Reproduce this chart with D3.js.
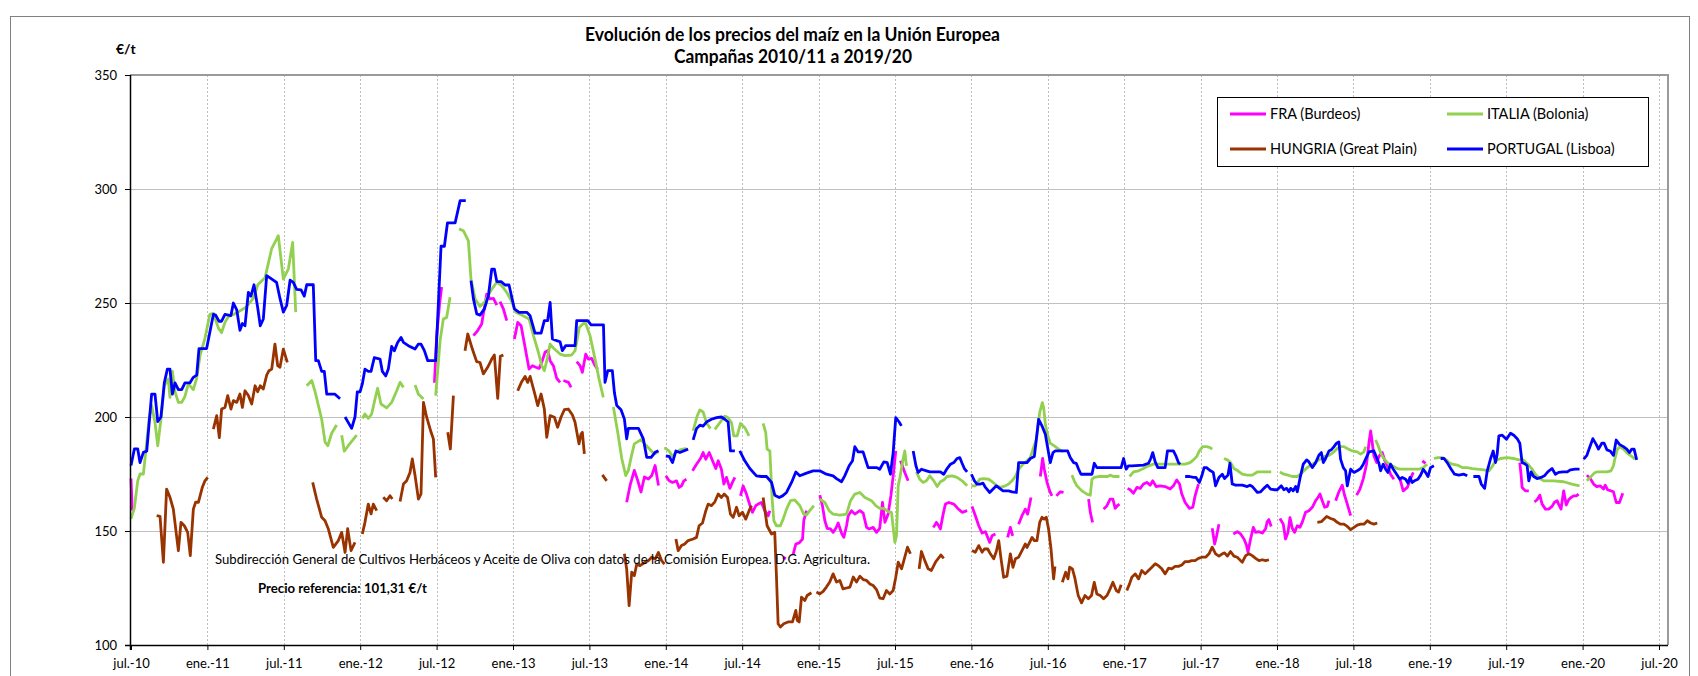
<!DOCTYPE html>
<html><head><meta charset="utf-8">
<script src="https://cdn.jsdelivr.net/npm/d3@7"></script>
<style>
body{margin:0;background:#fff}
svg text{font-family:Lato,"Liberation Sans",Arial,sans-serif;fill:#000}
</style></head>
<body><svg id="chart" width="1698" height="676"></svg>
<script>
const titleLines = ["Evolución de los precios del maíz en la Unión Europea", "Campañas 2010/11 a 2019/20"];
const yUnit = "€/t";
const sourceNote = "Subdirección General de Cultivos Herbáceos y Aceite de Oliva con datos de la Comisión Europea. D.G. Agricultura.";
const refNote = "Precio referencia: 101,31 €/t";
const xTickValues = [2010.5,2011,2011.5,2012,2012.5,2013,2013.5,2014,2014.5,2015,2015.5,2016,2016.5,2017,2017.5,2018,2018.5,2019,2019.5,2020,2020.5];
const xTickLabels = ["jul.-10","ene.-11","jul.-11","ene.-12","jul.-12","ene.-13","jul.-13","ene.-14","jul.-14","ene.-15","jul.-15","ene.-16","jul.-16","ene.-17","jul.-17","ene.-18","jul.-18","ene.-19","jul.-19","ene.-20","jul.-20"];
const yTicks = [100,150,200,250,300,350];
const seriesNames = ["FRA (Burdeos)","ITALIA (Bolonia)","HUNGRIA (Great Plain)","PORTUGAL (Lisboa)"];

// [año decimal, €/t]; null = hueco sin cotización
const fra = [[2010.5,173],[2010.508,159],null,
[2012.486,215],[2012.5,235],[2012.52,250],[2012.533,257],null,
[2012.741,235.7],[2012.769,237.9],[2012.795,240.8],[2012.813,248.1],[2012.828,253.9],[2012.85,251.8],[2012.872,252],[2012.894,249.1],null,
[2012.915,250.6],[2012.937,247.4],[2012.959,242.3],null,
[2013.009,234.2],[2013.031,241.5],[2013.053,240],[2013.079,230.6],[2013.105,221],[2013.127,222.5],[2013.149,221.8],[2013.171,221.3],[2013.188,224],[2013.21,228.4],[2013.227,229.1],[2013.243,224.7],[2013.264,222.5],[2013.286,217],[2013.308,215.2],null,
[2013.33,216],[2013.363,215.2],[2013.38,213],null,
[2013.417,224.3],[2013.439,222.5],[2013.454,219.6],[2013.476,227.6],[2013.493,225.4],[2013.515,225.7],[2013.537,222.5],[2013.554,221],null,
[2013.744,162.6],[2013.766,170],[2013.794,176.6],[2013.816,172.2],[2013.838,167.1],[2013.86,173.7],[2013.886,172.8],[2013.908,174.3],[2013.93,178.7],[2013.952,170],null,
[2014.0,174.2],[2014.022,172],[2014.044,171.3],[2014.07,172],[2014.087,169.1],[2014.103,169.8],[2014.118,172],[2014.135,172.7],null,
[2014.175,176.4],[2014.201,179.3],[2014.227,181.8],[2014.244,184.4],[2014.262,181.5],[2014.284,184.4],[2014.306,180.8],[2014.327,177.4],[2014.343,180.8],[2014.364,177.1],[2014.38,170.6],[2014.397,173.5],[2014.419,168.7],[2014.436,171.3],[2014.452,173.5],null,
[2014.489,165.4],[2014.506,169.8],[2014.528,166.2],[2014.55,161.4],[2014.567,158.2],[2014.589,161.1],[2014.604,161.8],[2014.626,162.5],[2014.648,158.9],[2014.67,156.7],[2014.681,158.9],null,
[2014.768,138.5],[2014.786,137.8],null,
[2014.834,139.9],[2014.851,144.3],[2014.873,144.8],[2014.895,146.5],[2014.903,154.5],[2014.921,158.9],null,
[2015.008,165.7],[2015.025,161.1],[2015.041,154.5],[2015.056,151.2],[2015.078,150.9],[2015.095,149.4],[2015.113,151.2],[2015.128,153.5],[2015.15,149.1],[2015.165,147.2],[2015.183,152.3],[2015.194,156.7],[2015.215,158.9],[2015.237,157.4],[2015.27,158.9],[2015.292,157.8],[2015.314,151.6],[2015.331,150.9],[2015.357,151.6],[2015.379,149.4],[2015.4,151.2],[2015.418,162.5],[2015.434,153.8],[2015.455,157.4],[2015.473,165.4],[2015.488,174.2],[2015.505,185.1],null,
[2015.536,180.8],[2015.564,175.7],[2015.586,172],null,
[2015.75,151.6],[2015.758,152.3],[2015.771,153.8],[2015.786,152.3],[2015.797,150.9],[2015.815,157.4],[2015.83,161.8],[2015.852,162.5],[2015.885,161.8],[2015.911,159.9],[2015.939,158.2],[2015.972,158.9],null,
[2016.004,160.8],[2016.026,156.7],[2016.048,152.3],[2016.07,149.1],[2016.092,149.7],[2016.12,145],[2016.135,147.9],[2016.157,148.7],null,
[2016.237,147.2],[2016.255,151.6],[2016.27,147.9],null,
[2016.309,153],[2016.331,156.7],[2016.353,159.6],[2016.368,157.4],[2016.39,164.7],null,
[2016.451,173.9],[2016.466,181.8],[2016.477,177.1],[2016.495,171.3],[2016.512,167.6],[2016.527,165.4],null,
[2016.556,165.4],[2016.582,167.2],[2016.603,166.9],null,
[2016.767,164],[2016.778,158.2],[2016.793,153.8],null,
[2016.865,159.6],[2016.887,161.1],[2016.908,164],[2016.926,164],[2016.941,159.9],[2016.956,161.1],[2016.969,161.8],null,
[2017.022,168.7],[2017.039,168.1],[2017.061,166.6],[2017.083,169.1],[2017.105,168.7],[2017.126,170.6],[2017.148,171.3],[2017.17,170.1],[2017.187,172],[2017.209,169.5],[2017.235,169.8],[2017.268,169.5],[2017.301,168.4],[2017.322,169.8],[2017.344,172.4],[2017.362,170.6],[2017.377,166.2],[2017.399,162.5],[2017.427,159.9],[2017.449,160.4],[2017.464,165.4],[2017.486,170.6],null,
[2017.576,151.2],[2017.592,144.3],[2017.605,147.9],[2017.62,153],null,
[2017.714,148.7],[2017.74,149.7],[2017.762,148.7],[2017.784,146.5],[2017.801,143.6],[2017.81,140.7],[2017.827,146.5],[2017.845,151.6],[2017.86,149.4],[2017.882,149.7],[2017.904,149.1],[2017.925,150.9],[2017.936,154.1],[2017.947,155],[2017.962,152],null,
[2018.019,155.5],[2018.041,153],[2018.056,146.5],[2018.072,149.4],[2018.085,155.9],[2018.1,151.2],[2018.115,149.4],[2018.133,152.3],[2018.15,151.6],[2018.165,153.8],[2018.187,158.2],[2018.209,158.9],[2018.231,160.4],[2018.253,163.3],[2018.268,164.7],[2018.281,166.2],[2018.296,163.3],[2018.312,160.4],[2018.329,160.8],[2018.34,163.3],null,
[2018.384,163.3],[2018.405,167.2],[2018.427,170.1],[2018.442,165.7],[2018.46,161.8],[2018.482,156.7],null,
[2018.521,165.7],[2018.543,168.4],[2018.565,173],[2018.586,179.3],[2018.602,188.8],[2018.613,193.9],[2018.623,188.8],[2018.634,183],[2018.652,180],[2018.67,183],[2018.689,184.4],[2018.705,181],[2018.722,178.6],[2018.743,174.9],[2018.765,172.7],null,
[2018.805,172.7],[2018.826,167.6],[2018.853,169.1],[2018.874,173],[2018.892,175.7],null,
[2018.951,180.8],[2018.972,179.7],null,
[2019.589,180],[2019.598,174.2],[2019.604,169.1],[2019.626,167.6],[2019.648,167.6],null,
[2019.685,162.8],[2019.702,163.7],[2019.72,165.7],[2019.735,161.8],[2019.757,159.6],[2019.778,159.6],[2019.8,160.8],[2019.815,162.5],[2019.833,163.3],[2019.843,161.8],[2019.859,159.6],[2019.876,167.6],[2019.893,161.4],[2019.909,163.7],[2019.924,164.7],[2019.941,165.4],[2019.959,165.4],[2019.974,166.2],null,
[2020.028,174.5],[2020.05,173],[2020.072,170.6],[2020.093,169.5],[2020.115,169.8],[2020.137,168.4],[2020.148,170.1],[2020.163,168.1],[2020.185,167.6],[2020.202,167.2],[2020.22,162.5],[2020.241,162.5],[2020.263,166.6]];

const italia = [[2010.5,155.3],[2010.522,160],[2010.544,172],[2010.559,175],[2010.581,175],[2010.596,184.5],[2010.62,200],[2010.635,205],[2010.657,197.7],[2010.675,187.4],[2010.696,199],[2010.718,213.7],[2010.744,216.7],[2010.755,208.6],[2010.771,220],[2010.788,211],[2010.81,206.4],[2010.832,206.4],[2010.853,209],[2010.875,214.5],[2010.908,212],[2010.93,217],[2010.952,227],[2010.984,234.5],[2011.016,245],[2011.039,245.5],[2011.072,239],[2011.093,237],[2011.115,241.5],[2011.137,244],[2011.17,245],[2011.2,246],[2011.25,248],[2011.3,252],[2011.33,258],[2011.36,260],[2011.377,261],[2011.42,273.7],[2011.464,279.5],[2011.497,260.5],[2011.53,265],[2011.558,276.6],[2011.578,246],null,
[2011.65,213.7],[2011.683,216],[2011.705,211],[2011.748,199],[2011.77,189],[2011.788,187.4],[2011.814,193],[2011.846,196.5],null,
[2011.879,192],[2011.896,185],[2011.922,187.4],[2011.977,192],null,
[2012.014,199.4],[2012.031,201.3],[2012.053,199.4],[2012.075,201.3],[2012.097,207.9],[2012.114,212.6],[2012.136,205.7],[2012.173,204],[2012.206,206.4],[2012.239,211.5],[2012.261,215.2],[2012.283,213],null,
[2012.359,214],[2012.381,210],[2012.414,207.9],null,
[2012.494,209.4],[2012.523,233.5],[2012.544,243],[2012.566,243.7],[2012.588,252.5],null,
[2012.647,282.5],[2012.675,281.7],[2012.708,277.3],[2012.725,260.5],[2012.752,251.8],[2012.784,248.5],[2012.813,250.3],[2012.861,256.1],[2012.894,259.1],[2012.926,257.6],[2012.959,254.7],[2012.992,250.6],[2013.018,245.9],[2013.057,244.7],[2013.105,243],[2013.134,235.7],[2013.166,228.4],[2013.188,222.5],[2013.205,220.3],[2013.221,224.7],[2013.243,232],[2013.271,229.8],[2013.308,227.6],[2013.341,226.9],[2013.384,227.2],[2013.406,229.1],[2013.434,239.3],[2013.472,241.8],[2013.504,235.7],[2013.537,225.4],[2013.563,216.7],[2013.591,208.6],null,
[2013.657,204.4],[2013.685,193.4],[2013.712,181.7],[2013.738,174.3],[2013.755,176.6],[2013.773,182.3],[2013.794,188.2],[2013.838,190.1],[2013.869,187.7],[2013.904,185.2],[2013.925,183.8],[2013.952,184.8],null,
[2013.99,186],[2014.0,186.2],[2014.022,185],[2014.044,182.7],[2014.066,184.4],[2014.092,185.6],[2014.135,186.2],null,
[2014.179,193.9],[2014.205,200.4],[2014.223,203.1],[2014.244,202.2],[2014.266,197.5],[2014.292,194.9],null,
[2014.321,194.6],[2014.354,197.5],[2014.386,200.4],[2014.408,199.7],[2014.43,197.5],[2014.445,191.7],[2014.467,191.7],[2014.489,197.2],[2014.517,195.3],[2014.545,191.7],null,
[2014.637,197.2],[2014.654,193.1],[2014.663,185.9],[2014.681,185.1],[2014.696,164],[2014.707,154.5],[2014.724,152.3],[2014.75,152.3],[2014.768,155.2],[2014.79,159.6],[2014.816,163.3],[2014.844,163.6],[2014.877,161.1],[2014.903,157.4],[2014.921,157],[2014.942,158.9],[2014.969,161.1],null,
[2015.008,164],[2015.041,162.5],[2015.069,158.9],[2015.095,157.4],[2015.139,157],[2015.183,157.4],[2015.209,163.3],[2015.237,166.2],[2015.27,166.9],[2015.303,164.7],[2015.346,163.3],[2015.374,161.1],[2015.4,159.9],[2015.427,159.9],[2015.455,158.5],[2015.477,158.2],[2015.499,145],[2015.51,148],[2015.521,169.8],[2015.532,173.5],[2015.553,181.5],[2015.564,185.1],[2015.575,178.6],null,
[2015.64,175.9],[2015.662,172.7],[2015.684,171.3],[2015.706,172],[2015.728,174.2],[2015.754,172],[2015.776,169.5],[2015.797,171.6],[2015.819,172.4],[2015.841,173.9],[2015.874,174.2],[2015.906,173.5],[2015.939,172],[2015.972,169.8],null,
[2016.0,169.8],[2016.026,169.8],[2016.054,172.7],[2016.081,173],[2016.113,172.7],[2016.142,171.3],[2016.168,169.8],[2016.19,169.1],[2016.222,169.8],[2016.244,170.6],[2016.266,172],[2016.288,173.9],[2016.309,177.1],[2016.338,179.3],[2016.364,180.8],[2016.386,182.2],[2016.403,185.9],[2016.425,190.2],[2016.447,201.9],[2016.464,206.3],[2016.473,204.1],[2016.484,196.8],[2016.499,192],[2016.516,188.5],[2016.542,187.3],[2016.571,185.9],[2016.603,184.7],null,
[2016.658,174.5],[2016.673,172],[2016.69,169.8],[2016.723,167.6],[2016.756,166.2],[2016.778,165.7],[2016.789,172.7],[2016.804,173.5],[2016.832,173.9],[2016.865,173.9],[2016.891,173.9],[2016.908,174.5],[2016.93,173.9],[2016.969,173.9],null,
[2017.035,173.9],[2017.061,175.9],[2017.094,176.4],[2017.126,177.4],[2017.159,178.6],[2017.192,179.3],[2017.235,179.3],[2017.279,179.3],[2017.322,179.3],[2017.366,179.3],[2017.399,179.3],[2017.431,180],[2017.453,181.2],[2017.475,182.7],[2017.492,185.1],[2017.514,187],[2017.54,187],[2017.562,186.6],[2017.576,185.9],null,
[2017.653,181.8],[2017.675,181.2],[2017.696,180],[2017.718,177.4],[2017.744,176.4],[2017.773,174.9],[2017.805,174.5],[2017.838,174.5],[2017.871,175.9],[2017.904,175.9],[2017.936,175.9],[2017.962,175.9],null,
[2018.019,175.9],[2018.045,174.9],[2018.072,174.5],[2018.1,173.9],[2018.133,173.9],[2018.154,174.9],[2018.176,176.4],[2018.198,177.8],[2018.22,178.9],[2018.242,179.7],[2018.264,180.8],[2018.29,181.8],[2018.312,182.7],[2018.34,183.2],[2018.373,184.7],[2018.394,186.2],[2018.416,187],[2018.438,187],[2018.46,186.2],[2018.493,185.1],[2018.525,184.7],[2018.547,183.7],[2018.569,184.7],[2018.58,187],null,
[2018.645,189.9],[2018.661,187.6],[2018.678,184.4],[2018.695,182.2],[2018.722,180],[2018.754,178.6],[2018.787,177.4],[2018.809,177.1],[2018.864,177.1],[2018.929,177.1],[2018.957,177.8],[2018.983,179.3],null,
[2019.027,181.8],[2019.053,182.2],[2019.082,182.2],[2019.103,181.5],[2019.125,180],[2019.147,179.3],[2019.18,178.9],[2019.212,177.8],[2019.245,177.8],[2019.278,177.4],[2019.311,177.1],[2019.354,176.8],[2019.387,176.4],[2019.409,178.3],[2019.43,180.8],[2019.463,181.8],[2019.507,182.2],[2019.55,181.8],[2019.583,181.2],[2019.611,181.2],[2019.641,179.3],[2019.67,177.1],[2019.691,174.9],[2019.72,173],[2019.746,172],[2019.811,172],[2019.876,171.6],[2019.93,170.6],[2019.98,169.8],null,
[2020.028,172],[2020.05,173.5],[2020.076,175.4],[2020.093,175.9],[2020.159,175.9],[2020.185,176.4],[2020.202,178.6],[2020.213,182.2],[2020.228,185.9],[2020.246,187],[2020.267,185.9],[2020.293,184.1],[2020.322,182.7],[2020.343,181.5]];

const hungria = [[2010.668,156.7],[2010.69,156.4],[2010.712,136.3],[2010.733,168.4],[2010.755,164.8],[2010.777,159.6],[2010.81,141.4],[2010.827,153.8],[2010.849,152.3],[2010.871,149.4],[2010.888,139.2],[2010.908,159.6],[2010.923,162.6],[2010.941,162.6],[2010.967,169.2],[2010.984,172],[2011.002,173.5],null,
[2011.039,194.7],[2011.061,200.6],[2011.078,191],[2011.093,203.5],[2011.115,204.2],[2011.133,209.4],[2011.154,203.5],[2011.17,207.2],[2011.192,206.4],[2011.213,210.1],[2011.229,204.2],[2011.246,211.5],[2011.268,209.4],[2011.29,205.7],[2011.312,213.7],[2011.329,211.1],[2011.346,213.7],[2011.366,212.3],[2011.388,218.4],[2011.403,220.3],[2011.421,221],[2011.442,232],[2011.46,222.5],[2011.475,221.8],[2011.497,229.8],[2011.523,224],null,
[2011.689,171.3],[2011.715,164],[2011.748,156],[2011.77,154.5],[2011.791,151],[2011.824,142.8],[2011.857,145.8],[2011.879,149.4],[2011.901,140.6],[2011.918,151],[2011.94,141.4],[2011.966,145],null,
[2012.014,148.7],[2012.031,153.8],[2012.053,161.8],[2012.071,157.5],[2012.086,161.8],[2012.108,158.9],null,
[2012.151,164.8],[2012.173,163.3],[2012.195,165.5],[2012.21,164],null,
[2012.261,162.9],[2012.283,170.6],[2012.304,172],[2012.326,175.7],[2012.341,181.6],[2012.359,174.3],[2012.381,164],[2012.398,166.3],[2012.414,206.4],[2012.435,199.9],[2012.464,193.3],[2012.479,190.4],[2012.494,173.5],null,
[2012.573,193.3],[2012.59,186],[2012.61,209.4],null,
[2012.686,229.1],[2012.704,236.4],[2012.734,229.8],[2012.762,224.3],[2012.784,223.9],[2012.806,218.9],[2012.834,221.8],[2012.861,225.4],[2012.878,227.2],[2012.9,208.2],[2012.917,226.6],[2012.937,227.2],null,
[2013.031,211.5],[2013.057,215.5],[2013.079,217.8],[2013.096,215.2],[2013.112,217.8],[2013.14,210.8],[2013.162,205],[2013.184,210.1],[2013.205,203.5],[2013.221,191.1],[2013.243,200.6],[2013.271,199.9],[2013.292,195.5],[2013.314,199.9],[2013.336,203.2],[2013.362,203.5],[2013.389,200.9],[2013.406,197.7],[2013.432,188.2],[2013.445,192.5],[2013.454,193.3],[2013.467,183.8],null,
[2013.585,174.6],[2013.613,172],null,
[2013.729,140],[2013.744,133.3],[2013.76,117.3],[2013.777,132],[2013.794,130.4],[2013.81,135.5],[2013.831,134.8],[2013.864,136.3],[2013.886,137],[2013.908,138.5],[2013.93,137.7],[2013.952,140.6],[2013.973,137],[2013.991,135.5],null,
[2014.066,146.5],[2014.081,141.4],[2014.103,143.6],[2014.124,144.3],[2014.146,145.8],[2014.179,146.5],[2014.201,147.2],[2014.218,152.3],[2014.24,153.5],[2014.262,158.9],[2014.277,161.8],[2014.299,161.1],[2014.321,162.8],[2014.343,166.2],[2014.364,164.7],[2014.382,166.2],[2014.404,164.7],[2014.423,157.4],[2014.441,156],[2014.463,160.4],[2014.48,156.7],[2014.502,158.2],[2014.523,155.2],[2014.545,158.9],[2014.561,161.1],null,
[2014.637,164.7],[2014.663,152.3],[2014.692,148.7],[2014.713,149.4],[2014.724,130.5],[2014.735,109.3],[2014.75,107.9],[2014.772,109.3],[2014.8,110.1],[2014.829,110.1],[2014.851,115.2],[2014.86,110.8],[2014.873,110.1],[2014.888,121],[2014.91,119.5],[2014.925,121.7],[2014.953,122.9],null,
[2014.986,123.2],[2015.008,122.4],[2015.03,123.5],[2015.051,125.4],[2015.073,127.6],[2015.095,131.2],[2015.117,127.6],[2015.139,128.3],[2015.16,124.6],[2015.183,125],[2015.205,125.4],[2015.227,129.8],[2015.248,127.6],[2015.27,130.2],[2015.292,128.7],[2015.314,128.3],[2015.336,126.8],[2015.357,126.1],[2015.379,124.3],[2015.4,120.6],[2015.422,120.3],[2015.444,123.9],[2015.466,122.4],[2015.488,123.9],[2015.505,129.7],[2015.521,136.3],[2015.543,133.4],[2015.564,138.5],[2015.582,142.9],[2015.601,140],null,
[2015.658,133.4],[2015.673,141],[2015.695,137],[2015.717,133.4],[2015.738,132.7],[2015.767,136.6],[2015.79,138.5],[2015.8,139.5],[2015.819,138],null,
[2016.004,141.4],[2016.026,140.7],[2016.048,143.6],[2016.07,140.7],[2016.085,142.1],[2016.107,142.1],[2016.124,140],[2016.146,137.8],[2016.163,141],[2016.179,145.8],[2016.194,137.8],[2016.211,129.7],[2016.233,130.2],[2016.255,140],[2016.272,134.1],[2016.288,137.8],[2016.309,138.5],[2016.331,141.4],[2016.353,144.3],[2016.364,142.8],[2016.381,145],[2016.397,147.2],[2016.412,145.8],[2016.429,145.8],[2016.447,153.8],[2016.462,156],[2016.477,155.2],[2016.49,156],[2016.505,150.9],[2016.521,142.1],[2016.538,129],[2016.547,134.5],null,
[2016.595,127.5],[2016.617,131.9],[2016.632,129],[2016.643,134.1],[2016.661,133.4],[2016.676,129.7],[2016.699,121.7],[2016.721,118.5],[2016.743,121.7],[2016.765,120.3],[2016.786,121.7],[2016.804,127.5],[2016.821,122.4],[2016.843,121.7],[2016.865,120.3],[2016.887,121.7],[2016.908,124.6],[2016.926,127.5],[2016.948,123.9],[2016.963,123.2],[2016.98,126.4],null,
[2017.017,123.9],[2017.035,126.8],[2017.05,129.7],[2017.072,131.2],[2017.094,129],[2017.115,132.7],[2017.137,131.2],[2017.159,132.7],[2017.181,134.1],[2017.203,135.6],[2017.224,134.8],[2017.246,133.4],[2017.268,131.2],[2017.29,133.7],[2017.311,133.4],[2017.333,134.5],[2017.355,134.5],[2017.377,135.1],[2017.399,136.6],[2017.421,136.6],[2017.442,137],[2017.464,137],[2017.486,138],[2017.508,138.5],[2017.533,138.5],[2017.555,140],[2017.576,142.9],[2017.598,140],[2017.62,139],[2017.642,140],[2017.657,140.4],[2017.675,139],[2017.696,141],[2017.718,139],[2017.74,138.5],[2017.762,137],[2017.773,136.3],[2017.795,139.2],[2017.816,140],[2017.838,139.2],[2017.86,138],[2017.882,137],[2017.904,137.4],[2017.925,137],[2017.947,137.4],null,
[2018.264,153.8],[2018.29,154.1],[2018.325,156.4],[2018.351,155.5],[2018.373,155],[2018.394,153.8],[2018.416,153],[2018.438,153],[2018.46,152],[2018.482,150.6],[2018.504,151.6],[2018.525,152.6],[2018.547,153],[2018.569,153],[2018.591,154.5],[2018.613,153.5],[2018.634,153],[2018.656,153.5]];

const portugal = [[2010.5,178.7],[2010.522,186],[2010.544,186],[2010.559,180],[2010.581,184.5],[2010.603,185],[2010.635,210],[2010.657,210],[2010.675,198],[2010.696,200],[2010.718,215],[2010.738,221],[2010.755,221],[2010.771,210],[2010.788,215],[2010.81,212],[2010.832,212],[2010.853,215],[2010.886,215],[2010.908,217.4],[2010.93,218.4],[2010.945,230],[2010.995,230],[2011.039,245],[2011.054,244.7],[2011.076,242],[2011.093,242],[2011.115,245],[2011.154,244.5],[2011.17,250],[2011.192,247],[2011.213,238],[2011.229,241],[2011.246,240],[2011.268,254.7],[2011.285,253],[2011.305,258],[2011.329,248],[2011.346,240],[2011.366,243],[2011.388,262],[2011.41,261],[2011.431,260],[2011.453,259],[2011.475,252],[2011.497,246],[2011.519,249],[2011.541,260],[2011.562,259],[2011.584,256],[2011.613,255.8],[2011.634,253],[2011.65,258],[2011.693,258],[2011.709,224.7],[2011.726,224.7],[2011.748,220],[2011.765,220],[2011.781,210],[2011.835,210],[2011.868,208],null,
[2011.901,200],[2011.927,197],[2011.944,195],[2011.966,200],[2011.981,211],[2011.999,211],[2012.014,214.5],[2012.031,221],[2012.053,220],[2012.071,220],[2012.092,226],[2012.13,225.4],[2012.145,220],[2012.167,218],[2012.184,221],[2012.206,231],[2012.223,229],[2012.245,232.7],[2012.267,234.9],[2012.283,232.7],[2012.315,231.3],[2012.359,229.8],[2012.381,232],[2012.398,232],[2012.42,229.1],[2012.442,224.7],[2012.494,224.7],[2012.512,250.3],[2012.529,274.9],[2012.551,274.9],[2012.571,285.1],[2012.621,285.1],[2012.654,294.9],[2012.691,294.9],null,
[2012.725,259.8],[2012.741,251.8],[2012.763,245.2],[2012.784,244.7],[2012.813,247.4],[2012.839,253.2],[2012.861,264.9],[2012.878,264.9],[2012.894,259.4],[2012.922,259.4],[2012.948,257.9],[2012.974,257.9],[2012.992,252.5],[2013.009,247.4],[2013.04,245.9],[2013.09,245.9],[2013.112,244.4],[2013.144,236.8],[2013.184,236.8],[2013.205,242.3],[2013.227,242.3],[2013.243,250.3],[2013.258,234.2],[2013.286,233.5],[2013.308,233],[2013.323,229.1],[2013.345,231.3],[2013.406,231.3],[2013.417,242.3],[2013.489,242.3],[2013.511,240.4],[2013.592,240.4],[2013.602,215.2],[2013.62,220.3],[2013.65,220.3],[2013.664,210.5],[2013.679,205],[2013.707,203.2],[2013.729,199.1],[2013.744,190.4],[2013.755,195],[2013.821,195],[2013.853,190.4],[2013.875,182.3],[2013.904,182.3],[2013.93,184.5],[2013.952,185.2],null,
[2014.0,182.9],[2014.022,182.7],[2014.044,180],[2014.066,185.1],[2014.092,184.4],[2014.146,185.9],null,
[2014.179,190],[2014.201,194.9],[2014.223,196.4],[2014.244,196],[2014.266,197.8],[2014.299,199],[2014.332,199.7],[2014.364,200],[2014.386,199],[2014.408,197.8],[2014.423,185.1],[2014.452,185.1],null,
[2014.484,185.1],[2014.517,180.8],[2014.55,177.4],[2014.593,174.2],[2014.626,173.9],[2014.659,173.9],[2014.692,171.3],[2014.713,165.7],[2014.742,164.7],[2014.764,165.4],[2014.79,166.9],[2014.823,171.3],[2014.851,175.9],[2014.877,174.2],[2014.921,175.4],[2014.964,176.4],[2015.008,176.4],[2015.051,174.9],[2015.095,174.2],[2015.117,173],[2015.15,171.6],[2015.171,174.2],[2015.2,178.6],[2015.222,180.8],[2015.237,187],[2015.259,184.7],[2015.291,184.7],[2015.324,177.8],[2015.379,177.8],[2015.4,177.1],[2015.427,180.3],[2015.449,180],[2015.47,174.9],[2015.488,184.4],[2015.505,199.7],[2015.527,197.8],[2015.542,196.1],null,
[2015.619,185.1],[2015.637,178.6],[2015.651,175.7],[2015.673,177.1],[2015.706,176.4],[2015.728,175.9],[2015.754,175.9],[2015.797,175.9],[2015.819,174.9],[2015.841,177.4],[2015.863,179.3],[2015.885,180],[2015.906,181.8],[2015.924,182.2],[2015.939,179.7],[2015.954,177.4],[2015.972,175.9],null,
[2016.0,174.9],[2016.02,172],[2016.037,170.6],[2016.059,170.6],[2016.076,171],[2016.092,169.1],[2016.12,166.9],[2016.142,168.4],[2016.163,169.8],[2016.185,168.7],[2016.207,167.6],[2016.244,167.6],[2016.266,167.2],[2016.294,166.9],[2016.309,180],[2016.364,180],[2016.386,181.8],[2016.412,182.7],[2016.425,190.2],[2016.44,199],[2016.462,196.1],[2016.484,192.4],[2016.499,186.6],[2016.516,180],[2016.534,184.4],[2016.549,185.1],[2016.63,185.1],[2016.647,182.2],[2016.669,180],[2016.686,179.7],[2016.702,177.1],[2016.717,174.9],[2016.789,174.9],[2016.804,179.7],[2016.821,177.8],[2016.98,177.8],[2016.996,181.8],[2017.013,177.1],[2017.028,178.6],[2017.05,178.6],[2017.126,178.9],[2017.159,179.7],[2017.174,181.8],[2017.187,184.4],[2017.203,180.3],[2017.22,177.8],[2017.268,177.8],[2017.283,185.1],[2017.322,185.1],[2017.34,182.7],[2017.355,180],[2017.366,179.3],null,
[2017.399,173.9],[2017.427,173.9],[2017.453,173.5],[2017.47,173.5],[2017.492,171.3],[2017.508,174.2],[2017.523,177.8],[2017.539,177.8],[2017.565,176.4],[2017.583,175.7],[2017.598,169.8],[2017.62,173.5],[2017.642,174.9],[2017.657,173],[2017.679,174.5],[2017.692,179.7],[2017.707,170.6],[2017.729,170.1],[2017.773,170.1],[2017.805,169.5],[2017.823,170.1],[2017.838,169.5],[2017.849,168.7],[2017.871,166.9],[2017.893,167.2],[2017.914,168.7],[2017.936,170.1],[2017.958,168.4],[2017.98,168.1],[2018.002,168.1],[2018.028,169.8],[2018.045,168.1],[2018.063,168.7],[2018.078,167.2],[2018.089,168.7],[2018.106,167.6],[2018.122,169.5],[2018.133,167.2],[2018.154,174.2],[2018.172,179.3],[2018.194,181.2],[2018.209,180.3],[2018.231,177.8],[2018.253,180],[2018.274,183.2],[2018.29,184.4],[2018.303,180],[2018.318,181.8],[2018.34,185.1],[2018.355,185.6],[2018.373,187],[2018.39,188.5],[2018.405,189.1],[2018.416,181.5],[2018.434,177.8],[2018.449,176.4],[2018.46,169.8],[2018.471,173.5],[2018.482,177.1],[2018.504,175.7],[2018.525,176.4],[2018.547,177.4],[2018.565,179.3],[2018.58,181.5],[2018.602,184.7],[2018.634,185.1],[2018.652,182.2],[2018.667,179.7],[2018.678,176.4],[2018.695,179.3],[2018.711,177.1],[2018.726,175.7],[2018.743,179.3],[2018.761,177.1],[2018.783,174.9],[2018.804,172.7],[2018.82,173.5],[2018.842,172.7],[2018.857,171],[2018.87,173.5],[2018.885,171.3],[2018.9,172],[2018.922,172.7],[2018.94,174.5],[2018.957,177.1],[2018.972,175.7],[2018.988,173.9],[2019.005,177.8],[2019.027,178.6],null,
[2019.071,181.8],[2019.093,181.8],[2019.114,180],[2019.14,177.1],[2019.162,174.9],[2019.19,174.5],[2019.223,174.9],[2019.245,174.2],null,
[2019.285,173.9],[2019.322,173.9],[2019.337,170.6],[2019.359,168.7],[2019.376,176.4],[2019.398,181.8],[2019.415,185.1],[2019.43,180],[2019.441,183.7],[2019.452,191.7],[2019.474,192],[2019.502,190.2],[2019.528,192.9],[2019.55,192],[2019.572,190.5],[2019.589,188.5],[2019.604,180],[2019.615,179.7],[2019.626,179.3],[2019.637,178.6],[2019.648,172],[2019.663,175.9],[2019.68,173.9],[2019.702,173],[2019.728,173.5],[2019.75,174.2],[2019.772,175.9],[2019.8,177.4],[2019.822,174.9],[2019.843,175.7],[2019.872,175.9],[2019.898,175.9],[2019.92,176.8],[2019.952,177.1],[2019.98,177.1],null,
[2020.007,181.5],[2020.028,183.2],[2020.046,186.6],[2020.067,190.5],[2020.089,188],[2020.104,185.9],[2020.126,188.5],[2020.141,188.5],[2020.159,185.6],[2020.18,185.1],[2020.202,183.2],[2020.22,189.9],[2020.241,188],[2020.267,187],[2020.289,185.9],[2020.307,184.4],[2020.322,185.9],[2020.337,185.9],[2020.354,181.2]];

const series = [
  {name: seriesNames[0], data: fra, color: "#FF00FF"},
  {name: seriesNames[1], data: italia, color: "#92D050"},
  {name: seriesNames[2], data: hungria, color: "#993300"},
  {name: seriesNames[3], data: portugal, color: "#0000FF"}
];

const svg = d3.select("#chart");
const plot = {left: 130, right: 1668, top: 75, bottom: 645};

const x = d3.scaleLinear().domain([2010.5, 2020.5]).range([131, 1659]);
const y = d3.scaleLinear().domain([100, 350]).range([645, 75]);

// outer frame
svg.append("rect").attr("x", 10.5).attr("y", 16.5).attr("width", 1679).attr("height", 700)
  .attr("fill", "#fff").attr("stroke", "#808080").attr("stroke-width", 1);

// horizontal gridlines
svg.append("g").selectAll("line").data(yTicks.filter(v => v > 100 && v < 350)).join("line")
  .attr("x1", plot.left).attr("x2", plot.right)
  .attr("y1", d => Math.round(y(d)) + 0.5).attr("y2", d => Math.round(y(d)) + 0.5)
  .attr("stroke", "#c0c0c0").attr("stroke-width", 1.2);

// vertical dashed gridlines
svg.append("g").selectAll("line").data(xTickValues.slice(1)).join("line")
  .attr("x1", d => Math.round(x(d)) + 0.5).attr("x2", d => Math.round(x(d)) + 0.5)
  .attr("y1", plot.top).attr("y2", plot.bottom)
  .attr("stroke", "#bdbdbd").attr("stroke-width", 1).attr("stroke-dasharray", "2,2");

// top and right plot border
svg.append("path")
  .attr("d", `M${plot.left},${y(350)}H${plot.right}V${plot.bottom}`)
  .attr("fill", "none").attr("stroke", "#9a9a9a").attr("stroke-width", 2);

// lines
const line = d3.line().defined(d => d !== null).x(d => x(d[0])).y(d => y(d[1]));
svg.append("g").selectAll("path").data(series).join("path")
  .attr("d", d => line(d.data))
  .attr("fill", "none").attr("stroke", d => d.color)
  .attr("stroke-width", 2.8).attr("stroke-linejoin", "round").attr("stroke-linecap", "butt");

// axes
const xAxis = d3.axisBottom(x).tickValues(xTickValues).tickFormat((d, i) => xTickLabels[i]).tickSize(5).tickPadding(9);
const gx = svg.append("g").attr("transform", `translate(0,${plot.bottom})`).call(xAxis);
gx.select(".domain").remove();
gx.selectAll("text").attr("font-size", 13).attr("font-family", "Lato, 'Liberation Sans', sans-serif").attr("fill", "#000");
gx.selectAll(".tick line").attr("stroke", "#000");
svg.append("line").attr("x1", plot.left - 5).attr("x2", plot.right).attr("y1", plot.bottom + 0.5).attr("y2", plot.bottom + 0.5).attr("stroke", "#000").attr("stroke-width", 1.5);

const yAxis = d3.axisLeft(y).tickValues(yTicks).tickSize(5).tickPadding(8);
const gy = svg.append("g").attr("transform", `translate(${plot.left},0)`).call(yAxis);
gy.select(".domain").remove();
gy.selectAll("text").attr("font-size", 13).attr("font-family", "Lato, 'Liberation Sans', sans-serif").attr("fill", "#000");
gy.selectAll(".tick line").attr("stroke", "#000");
svg.append("line").attr("x1", plot.left + 0.5).attr("x2", plot.left + 0.5).attr("y1", plot.top).attr("y2", plot.bottom + 5).attr("stroke", "#000").attr("stroke-width", 1.5);

// titles
svg.append("text").attr("x", 792.5).attr("y", 41).attr("text-anchor", "middle")
  .attr("font-size", 18).attr("font-weight", "bold").attr("textLength", 415).attr("lengthAdjust", "spacingAndGlyphs").text(titleLines[0]);
svg.append("text").attr("x", 793).attr("y", 63).attr("text-anchor", "middle")
  .attr("font-size", 18).attr("font-weight", "bold").attr("textLength", 238).attr("lengthAdjust", "spacingAndGlyphs").text(titleLines[1]);
svg.append("text").attr("x", 116).attr("y", 54).attr("font-size", 14).attr("font-weight", "bold").text(yUnit);

// notes
svg.append("text").attr("x", 215).attr("y", 564).attr("font-size", 13.5)
  .attr("textLength", 655).attr("lengthAdjust", "spacingAndGlyphs").text(sourceNote);
svg.append("text").attr("x", 258).attr("y", 593).attr("font-size", 13.5).attr("font-weight", "bold")
  .attr("textLength", 169).attr("lengthAdjust", "spacingAndGlyphs").text(refNote);

// legend
const lg = svg.append("g");
lg.append("rect").attr("x", 1217.5).attr("y", 97.5).attr("width", 431).attr("height", 69)
  .attr("fill", "#fff").attr("stroke", "#000").attr("stroke-width", 1);
const legendPos = [[1230, 114], [1447, 114], [1230, 149], [1447, 149]];
const items = lg.selectAll("g.item").data(series).join("g").attr("class", "item")
  .attr("transform", (d, i) => `translate(${legendPos[i][0]},${legendPos[i][1]})`);
items.append("line").attr("x1", 0).attr("x2", 36).attr("y1", 0).attr("y2", 0)
  .attr("stroke", d => d.color).attr("stroke-width", 3);
items.append("text").attr("x", 40).attr("y", 5).attr("font-size", 14.5).text(d => d.name);
</script>
</body></html>
